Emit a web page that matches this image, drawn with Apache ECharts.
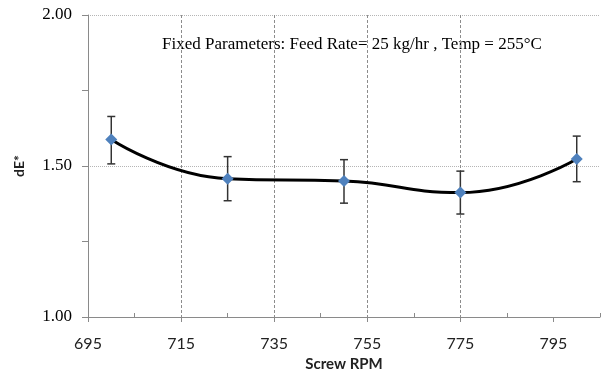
<!DOCTYPE html>
<html>
<head>
<meta charset="utf-8">
<script src="https://cdn.jsdelivr.net/npm/echarts@6/dist/echarts.min.js"></script>
<style>
  html, body { margin: 0; padding: 0; background: #fff; }
  #chart { width: 605px; height: 374px; }
</style>
</head>
<body>
<div id="chart"></div>
<script>
// Screw speed (RPM) and measured colour difference dE* with its spread
const rpm = [700, 725, 750, 775, 800];
const dE = [1.588, 1.458, 1.450, 1.412, 1.523];
const errUpper = [1.664, 1.531, 1.521, 1.483, 1.599];
const errLower = [1.507, 1.385, 1.377, 1.341, 1.448];

const xMajorTicks = [695, 715, 735, 755, 775, 795];
const xMinorTicks = [705, 725, 745, 765, 785, 805];
const note = 'Fixed Parameters: Feed Rate= 25 kg/hr , Temp = 255\u00B0C';

const points = rpm.map((x, i) => [x, dE[i]]);
const bars = rpm.map((x, i) => [x, errLower[i], errUpper[i]]);

const chart = echarts.init(document.getElementById('chart'), null, { renderer: 'canvas' });

const axisGrey = '#8a8a8a';

chart.setOption({
  animation: false,
  backgroundColor: '#ffffff',
  grid: { left: 88, right: 5, top: 15, bottom: 57, containLabel: false, outerBoundsMode: 'none' },
  xAxis: [
    {
      type: 'value',
      min: 695,
      max: 805,
      interval: 20,
      name: 'Screw RPM',
      nameLocation: 'middle',
      nameGap: 40,
      nameTextStyle: { fontFamily: 'Lato', fontWeight: 'bold', fontSize: 15, color: '#222' },
      axisLine: { show: true, onZero: false, lineStyle: { color: axisGrey, width: 1 } },
      axisTick: { show: true, length: 5, customValues: xMajorTicks, lineStyle: { color: axisGrey } },
      axisLabel: {
        customValues: xMajorTicks,
        margin: 19,
        fontFamily: 'Lato',
        fontSize: 16,
        color: '#222'
      },
      splitLine: {
        show: true,
        showMinLine: false,
        showMaxLine: false,
        lineStyle: { color: '#8c8c8c', type: [3, 2], width: 1 }
      }
    },
    {
      // inward minor ticks along the bottom axis
      type: 'value',
      position: 'bottom',
      min: 695,
      max: 805,
      interval: 20,
      axisLine: { show: false },
      axisTick: { show: true, inside: true, length: 4, customValues: xMinorTicks, lineStyle: { color: axisGrey } },
      axisLabel: { show: false },
      splitLine: { show: false }
    }
  ],
  yAxis: {
    type: 'value',
    min: 1,
    max: 2,
    interval: 0.5,
    name: 'dE*',
    nameLocation: 'middle',
    nameRotate: 90,
    nameGap: 62,
    nameTextStyle: { fontFamily: 'Lato', fontWeight: 'bold', fontSize: 14, color: '#222' },
    axisLine: { show: true, lineStyle: { color: axisGrey, width: 1 } },
    axisTick: { show: true, length: 6, lineStyle: { color: axisGrey } },
    minorTick: { show: true, splitNumber: 2, length: 6, lineStyle: { color: axisGrey } },
    axisLabel: {
      margin: 16,
      fontFamily: 'Liberation Serif',
      fontSize: 17,
      color: '#000',
      formatter: v => v.toFixed(2)
    },
    splitLine: {
      show: true,
      lineStyle: { color: '#b5b5b5', type: [1, 1], width: 1 }
    }
  },
  graphic: [
    {
      type: 'text',
      left: 162,
      top: 36,
      style: {
        text: note,
        font: '17px "Liberation Serif"',
        fill: '#000'
      }
    }
  ],
  series: [
    {
      type: 'custom',
      name: 'spread',
      data: bars,
      z: 2,
      renderItem: function (params, api) {
        const x = api.value(0);
        const lo = api.coord([x, api.value(1)]);
        const hi = api.coord([x, api.value(2)]);
        const cap = 4;
        const style = { stroke: '#333', lineWidth: 1.5 };
        return {
          type: 'group',
          children: [
            { type: 'line', shape: { x1: lo[0], y1: lo[1], x2: hi[0], y2: hi[1] }, style },
            { type: 'line', shape: { x1: hi[0] - cap, y1: hi[1], x2: hi[0] + cap, y2: hi[1] }, style },
            { type: 'line', shape: { x1: lo[0] - cap, y1: lo[1], x2: lo[0] + cap, y2: lo[1] }, style }
          ]
        };
      },
      encode: { x: 0, y: [1, 2] }
    },
    {
      type: 'line',
      name: 'dE*',
      data: points,
      smooth: 0.5,
      z: 3,
      symbol: 'diamond',
      symbolSize: 12,
      lineStyle: { color: '#000', width: 3 },
      itemStyle: { color: '#4F81BD' }
    }
  ]
});
</script>
</body>
</html>
